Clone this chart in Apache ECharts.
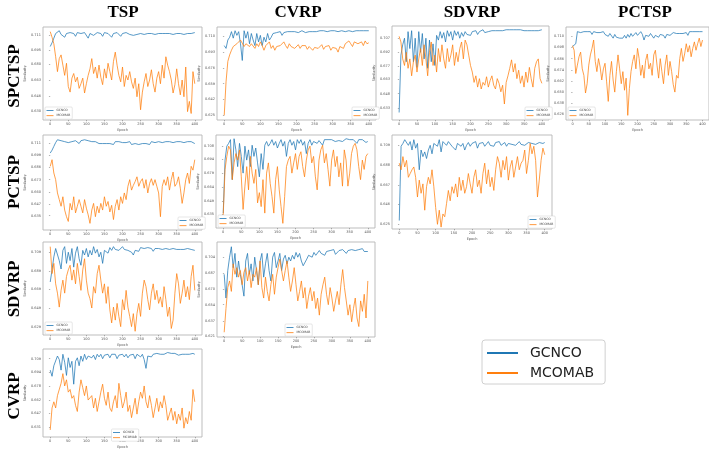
<!DOCTYPE html>
<html><head><meta charset="utf-8">
<script src="https://cdn.jsdelivr.net/npm/echarts@6/dist/echarts.min.js"></script>
<style>html,body{margin:0;padding:0;background:#fff}#c{width:709px;height:450px}</style>
</head><body><div id="c"></div>
<script>
const methods = ['GCNCO','MCOMAB'];
const colTitles = ['TSP','CVRP','SDVRP','PCTSP'];
const rowTitles = ['SPCTSP','PCTSP','SDVRP','CVRP'];
const xTickValues = [0,50,100,150,200,250,300,350,400];
const epochs = [0,5,10,15,20,25,30,35,40,45,50,55,60,65,70,75,80,85,90,95,100,105,110,115,120,125,130,135,140,145,150,155,160,165,170,175,180,185,190,195,200,205,210,215,220,225,230,235,240,245,250,255,260,265,270,275,280,285,290,295,300,305,310,315,320,325,330,335,340,345,350,355,360,365,370,375,380,385,390,395,400];

// row SPCTSP
const gcnco_SPCTSP_TSP = [0.699,0.703,0.708,0.713,0.715,0.716,0.712,0.714,0.709,0.713,0.711,0.714,0.712,0.713,0.710,0.714,0.712,0.713,0.711,0.714,0.712,0.708,0.713,0.714,0.711,0.713,0.714,0.712,0.713,0.710,0.714,0.712,0.713,0.714,0.709,0.713,0.711,0.714,0.712,0.710,0.713,0.711,0.714,0.713,0.712,0.714,0.711,0.713,0.712,0.714,0.713,0.714,0.712,0.714,0.713,0.714,0.713,0.714,0.712,0.714,0.713,0.714,0.713,0.715,0.713,0.714,0.713,0.714,0.712,0.714,0.713,0.714,0.713,0.714,0.712,0.714,0.713,0.714,0.713,0.714,0.714];
const mcomab_SPCTSP_TSP = [0.715,0.709,0.702,0.688,0.672,0.686,0.690,0.679,0.668,0.681,0.656,0.650,0.665,0.670,0.661,0.666,0.654,0.659,0.665,0.649,0.659,0.668,0.675,0.686,0.670,0.677,0.665,0.679,0.666,0.658,0.675,0.665,0.681,0.672,0.663,0.683,0.693,0.679,0.668,0.661,0.677,0.656,0.668,0.663,0.672,0.661,0.654,0.665,0.645,0.659,0.631,0.650,0.661,0.670,0.656,0.663,0.674,0.659,0.650,0.665,0.672,0.659,0.679,0.665,0.688,0.679,0.672,0.663,0.649,0.658,0.675,0.659,0.647,0.663,0.645,0.677,0.629,0.640,0.627,0.672,0.659];
const gcnco_SPCTSP_CVRP = [0.700,0.697,0.706,0.709,0.715,0.708,0.716,0.711,0.715,0.702,0.684,0.716,0.708,0.715,0.702,0.713,0.706,0.700,0.713,0.704,0.711,0.700,0.709,0.704,0.713,0.706,0.709,0.713,0.711,0.714,0.712,0.715,0.711,0.714,0.713,0.715,0.713,0.715,0.714,0.715,0.715,0.714,0.715,0.716,0.715,0.714,0.716,0.715,0.716,0.715,0.716,0.715,0.716,0.716,0.715,0.716,0.716,0.715,0.716,0.716,0.715,0.716,0.716,0.715,0.716,0.716,0.716,0.715,0.716,0.716,0.716,0.715,0.716,0.716,0.716,0.716,0.716,0.716,0.716,0.716,0.716];
const mcomab_SPCTSP_CVRP = [0.625,0.661,0.683,0.690,0.695,0.699,0.697,0.702,0.700,0.706,0.708,0.699,0.702,0.704,0.699,0.702,0.700,0.697,0.702,0.699,0.704,0.700,0.695,0.700,0.699,0.704,0.697,0.700,0.695,0.699,0.697,0.700,0.699,0.704,0.700,0.697,0.702,0.699,0.700,0.697,0.699,0.701,0.697,0.700,0.698,0.700,0.696,0.699,0.700,0.695,0.698,0.700,0.697,0.699,0.701,0.696,0.699,0.698,0.700,0.695,0.698,0.700,0.697,0.693,0.699,0.700,0.697,0.702,0.700,0.705,0.702,0.699,0.704,0.706,0.702,0.700,0.704,0.700,0.705,0.702,0.703];
const gcnco_SPCTSP_SDVRP = [0.628,0.689,0.700,0.707,0.682,0.714,0.696,0.715,0.682,0.707,0.676,0.714,0.692,0.712,0.685,0.707,0.675,0.705,0.682,0.701,0.678,0.710,0.705,0.714,0.707,0.713,0.703,0.715,0.709,0.714,0.705,0.715,0.710,0.714,0.707,0.713,0.709,0.714,0.711,0.709,0.710,0.714,0.712,0.715,0.711,0.714,0.712,0.716,0.713,0.715,0.714,0.716,0.715,0.716,0.715,0.717,0.715,0.716,0.715,0.717,0.716,0.717,0.716,0.717,0.716,0.717,0.716,0.717,0.716,0.716,0.715,0.717,0.715,0.716,0.715,0.716,0.715,0.716,0.715,0.716,0.716];
const mcomab_SPCTSP_SDVRP = [0.709,0.703,0.685,0.678,0.692,0.675,0.685,0.667,0.682,0.689,0.671,0.685,0.696,0.678,0.700,0.685,0.667,0.692,0.703,0.678,0.689,0.671,0.696,0.682,0.700,0.685,0.675,0.696,0.682,0.689,0.700,0.678,0.692,0.682,0.696,0.703,0.685,0.705,0.700,0.689,0.678,0.671,0.660,0.667,0.655,0.664,0.653,0.660,0.657,0.666,0.655,0.662,0.667,0.657,0.653,0.664,0.659,0.650,0.657,0.637,0.660,0.667,0.675,0.684,0.671,0.680,0.664,0.673,0.659,0.667,0.655,0.671,0.660,0.676,0.664,0.655,0.675,0.682,0.685,0.664,0.659];
const gcnco_SPCTSP_PCTSP = [0.699,0.700,0.702,0.715,0.716,0.714,0.715,0.715,0.713,0.715,0.714,0.715,0.712,0.715,0.713,0.714,0.712,0.714,0.713,0.715,0.712,0.713,0.710,0.713,0.711,0.708,0.712,0.709,0.711,0.708,0.710,0.708,0.711,0.708,0.712,0.709,0.713,0.710,0.712,0.714,0.711,0.713,0.715,0.712,0.706,0.711,0.713,0.710,0.713,0.711,0.708,0.711,0.713,0.709,0.712,0.713,0.711,0.708,0.712,0.713,0.711,0.713,0.714,0.712,0.713,0.715,0.713,0.714,0.713,0.715,0.714,0.711,0.715,0.713,0.715,0.714,0.715,0.716,0.715,0.714,0.715];
const mcomab_SPCTSP_PCTSP = [0.700,0.695,0.670,0.679,0.688,0.693,0.675,0.668,0.649,0.659,0.679,0.690,0.697,0.706,0.683,0.672,0.686,0.677,0.663,0.675,0.681,0.661,0.640,0.668,0.683,0.663,0.650,0.672,0.690,0.675,0.659,0.672,0.652,0.665,0.625,0.654,0.672,0.683,0.690,0.675,0.697,0.686,0.668,0.679,0.665,0.684,0.691,0.675,0.681,0.668,0.690,0.695,0.679,0.665,0.686,0.672,0.659,0.679,0.690,0.668,0.683,0.672,0.658,0.650,0.668,0.665,0.686,0.697,0.683,0.691,0.702,0.693,0.700,0.688,0.697,0.704,0.695,0.702,0.708,0.699,0.706];
// row PCTSP
const gcnco_PCTSP_TSP = [0.701,0.704,0.708,0.712,0.715,0.715,0.714,0.715,0.713,0.715,0.712,0.714,0.713,0.711,0.714,0.713,0.711,0.714,0.712,0.715,0.713,0.714,0.715,0.713,0.715,0.713,0.714,0.711,0.713,0.711,0.713,0.711,0.713,0.711,0.712,0.710,0.713,0.711,0.713,0.711,0.712,0.710,0.712,0.711,0.713,0.710,0.712,0.711,0.713,0.710,0.712,0.711,0.713,0.711,0.712,0.710,0.713,0.711,0.712,0.710,0.713,0.711,0.712,0.710,0.713,0.711,0.713,0.711,0.712,0.710,0.713,0.711,0.713,0.711,0.712,0.710,0.713,0.711,0.713,0.712,0.711];
const mcomab_PCTSP_TSP = [0.687,0.694,0.680,0.673,0.659,0.652,0.645,0.655,0.641,0.634,0.629,0.648,0.641,0.655,0.638,0.645,0.652,0.645,0.638,0.652,0.643,0.636,0.627,0.641,0.648,0.634,0.645,0.638,0.648,0.641,0.655,0.645,0.650,0.639,0.646,0.631,0.645,0.652,0.641,0.655,0.648,0.659,0.652,0.666,0.673,0.662,0.667,0.671,0.676,0.666,0.671,0.674,0.664,0.673,0.659,0.669,0.674,0.667,0.673,0.666,0.659,0.634,0.666,0.673,0.667,0.676,0.662,0.673,0.681,0.666,0.669,0.676,0.664,0.648,0.659,0.673,0.680,0.669,0.687,0.683,0.694];
const gcnco_PCTSP_CVRP = [0.636,0.693,0.708,0.711,0.715,0.672,0.716,0.704,0.686,0.711,0.697,0.679,0.708,0.693,0.704,0.686,0.709,0.697,0.706,0.690,0.675,0.700,0.683,0.709,0.713,0.708,0.711,0.715,0.709,0.713,0.706,0.711,0.715,0.708,0.713,0.697,0.711,0.715,0.709,0.713,0.704,0.715,0.711,0.715,0.709,0.713,0.700,0.711,0.715,0.709,0.713,0.715,0.711,0.714,0.715,0.709,0.715,0.713,0.715,0.714,0.715,0.716,0.713,0.715,0.714,0.715,0.713,0.715,0.716,0.714,0.715,0.713,0.715,0.715,0.711,0.715,0.713,0.715,0.714,0.712,0.713];
const mcomab_PCTSP_CVRP = [0.634,0.683,0.697,0.708,0.704,0.672,0.690,0.700,0.693,0.704,0.675,0.640,0.665,0.686,0.661,0.697,0.679,0.668,0.683,0.647,0.658,0.643,0.672,0.636,0.679,0.690,0.668,0.654,0.636,0.672,0.686,0.661,0.643,0.625,0.654,0.686,0.693,0.697,0.679,0.690,0.700,0.683,0.697,0.702,0.686,0.675,0.693,0.704,0.708,0.690,0.697,0.675,0.661,0.693,0.704,0.709,0.690,0.700,0.683,0.665,0.693,0.704,0.686,0.697,0.675,0.690,0.665,0.704,0.693,0.665,0.679,0.700,0.708,0.711,0.704,0.686,0.672,0.693,0.683,0.697,0.700];
const gcnco_PCTSP_SDVRP = [0.629,0.708,0.711,0.715,0.716,0.709,0.713,0.704,0.715,0.706,0.711,0.683,0.704,0.697,0.702,0.695,0.704,0.709,0.700,0.711,0.713,0.708,0.715,0.702,0.713,0.715,0.709,0.713,0.711,0.708,0.709,0.704,0.711,0.713,0.708,0.711,0.704,0.709,0.712,0.708,0.711,0.709,0.713,0.706,0.711,0.709,0.712,0.708,0.710,0.713,0.709,0.711,0.708,0.712,0.710,0.713,0.709,0.711,0.712,0.708,0.711,0.713,0.710,0.712,0.709,0.711,0.713,0.710,0.712,0.709,0.711,0.712,0.710,0.711,0.713,0.710,0.711,0.712,0.710,0.711,0.712];
const mcomab_PCTSP_SDVRP = [0.690,0.683,0.697,0.686,0.693,0.675,0.679,0.683,0.686,0.675,0.654,0.672,0.658,0.668,0.640,0.665,0.675,0.668,0.683,0.665,0.643,0.625,0.640,0.622,0.636,0.633,0.647,0.661,0.650,0.665,0.658,0.668,0.654,0.675,0.661,0.672,0.658,0.665,0.679,0.668,0.658,0.675,0.683,0.665,0.672,0.658,0.679,0.690,0.668,0.683,0.665,0.675,0.661,0.683,0.697,0.690,0.675,0.693,0.683,0.697,0.672,0.686,0.693,0.675,0.686,0.697,0.683,0.690,0.693,0.704,0.679,0.693,0.711,0.700,0.708,0.693,0.654,0.672,0.693,0.706,0.699];
// row SDVRP
const gcnco_SDVRP_TSP = [0.677,0.690,0.704,0.713,0.715,0.700,0.691,0.711,0.715,0.697,0.709,0.700,0.713,0.693,0.708,0.715,0.702,0.695,0.711,0.706,0.713,0.704,0.711,0.706,0.715,0.708,0.712,0.704,0.709,0.697,0.711,0.713,0.708,0.714,0.711,0.715,0.712,0.714,0.711,0.713,0.715,0.712,0.714,0.711,0.713,0.709,0.706,0.711,0.713,0.710,0.714,0.712,0.713,0.711,0.714,0.712,0.713,0.710,0.713,0.711,0.713,0.711,0.712,0.710,0.713,0.711,0.712,0.710,0.713,0.711,0.712,0.710,0.712,0.711,0.712,0.710,0.713,0.711,0.712,0.710,0.711];
const mcomab_SDVRP_TSP = [0.715,0.686,0.697,0.675,0.665,0.650,0.668,0.679,0.665,0.683,0.690,0.695,0.679,0.690,0.675,0.697,0.683,0.668,0.690,0.702,0.679,0.665,0.659,0.649,0.672,0.665,0.686,0.695,0.679,0.665,0.675,0.654,0.672,0.647,0.633,0.650,0.636,0.654,0.640,0.629,0.658,0.647,0.668,0.650,0.640,0.629,0.643,0.624,0.643,0.654,0.640,0.665,0.679,0.672,0.658,0.647,0.665,0.675,0.658,0.668,0.654,0.661,0.650,0.672,0.658,0.640,0.650,0.627,0.636,0.665,0.686,0.675,0.654,0.665,0.679,0.661,0.672,0.658,0.683,0.695,0.668];
const gcnco_SDVRP_CVRP = [0.686,0.661,0.690,0.704,0.715,0.693,0.708,0.683,0.700,0.686,0.675,0.663,0.700,0.708,0.686,0.697,0.679,0.704,0.690,0.675,0.700,0.708,0.683,0.697,0.708,0.690,0.679,0.704,0.709,0.693,0.700,0.708,0.690,0.702,0.706,0.697,0.704,0.700,0.706,0.702,0.709,0.704,0.708,0.700,0.695,0.693,0.702,0.706,0.708,0.704,0.709,0.706,0.708,0.711,0.708,0.709,0.706,0.710,0.708,0.711,0.709,0.712,0.707,0.709,0.711,0.709,0.712,0.710,0.708,0.711,0.710,0.712,0.710,0.711,0.709,0.712,0.711,0.713,0.710,0.711,0.710];
const mcomab_SDVRP_CVRP = [0.625,0.650,0.672,0.679,0.668,0.697,0.686,0.693,0.683,0.690,0.675,0.688,0.693,0.679,0.690,0.672,0.686,0.683,0.693,0.675,0.700,0.672,0.661,0.683,0.668,0.658,0.675,0.686,0.665,0.683,0.693,0.702,0.690,0.679,0.690,0.700,0.683,0.668,0.679,0.693,0.675,0.658,0.668,0.679,0.661,0.672,0.650,0.663,0.672,0.658,0.668,0.650,0.661,0.643,0.665,0.675,0.683,0.665,0.654,0.672,0.661,0.647,0.658,0.668,0.654,0.675,0.691,0.672,0.658,0.643,0.654,0.636,0.650,0.661,0.640,0.631,0.658,0.647,0.665,0.640,0.679];
// row CVRP
const gcnco_CVRP_TSP = [0.696,0.689,0.701,0.699,0.712,0.708,0.696,0.714,0.705,0.690,0.710,0.699,0.706,0.680,0.706,0.710,0.701,0.712,0.706,0.714,0.708,0.712,0.714,0.710,0.713,0.708,0.714,0.711,0.714,0.709,0.713,0.711,0.714,0.710,0.714,0.712,0.714,0.709,0.713,0.711,0.714,0.711,0.714,0.710,0.713,0.712,0.714,0.709,0.714,0.712,0.711,0.714,0.708,0.698,0.712,0.714,0.711,0.714,0.713,0.715,0.714,0.714,0.715,0.714,0.715,0.716,0.714,0.715,0.714,0.715,0.714,0.713,0.715,0.714,0.715,0.714,0.715,0.714,0.715,0.715,0.714];
const mcomab_CVRP_TSP = [0.628,0.653,0.660,0.653,0.667,0.665,0.681,0.692,0.678,0.685,0.671,0.674,0.664,0.667,0.656,0.649,0.671,0.685,0.676,0.667,0.678,0.662,0.660,0.667,0.653,0.664,0.649,0.660,0.671,0.680,0.664,0.656,0.671,0.653,0.649,0.660,0.667,0.653,0.681,0.667,0.653,0.660,0.671,0.649,0.656,0.642,0.653,0.664,0.646,0.660,0.671,0.664,0.678,0.660,0.653,0.667,0.656,0.642,0.653,0.664,0.649,0.660,0.653,0.667,0.656,0.639,0.646,0.653,0.639,0.649,0.635,0.646,0.639,0.653,0.630,0.642,0.635,0.649,0.639,0.674,0.660];

// y tick labels per panel
const yTicks_SPCTSP_TSP = [0.630,0.646,0.663,0.680,0.695,0.711];
const yTicks_SPCTSP_CVRP = [0.625,0.642,0.659,0.676,0.693,0.710];
const yTicks_SPCTSP_SDVRP = [0.633,0.648,0.663,0.677,0.692,0.707];
const yTicks_SPCTSP_PCTSP = [0.626,0.638,0.650,0.662,0.674,0.686,0.698,0.710];
const yTicks_PCTSP_TSP = [0.635,0.647,0.660,0.673,0.686,0.699,0.711];
const yTicks_PCTSP_CVRP = [0.635,0.649,0.664,0.679,0.694,0.708];
const yTicks_PCTSP_SDVRP = [0.625,0.646,0.667,0.688,0.709];
const yTicks_SDVRP_TSP = [0.629,0.649,0.669,0.689,0.709];
const yTicks_SDVRP_CVRP = [0.621,0.637,0.654,0.670,0.687,0.704];
const yTicks_CVRP_TSP = [0.631,0.647,0.662,0.678,0.694,0.709];

const BLUE = '#1f77b4', ORANGE = '#ff7f0e';

const panels = [
  {g:gcnco_SPCTSP_TSP, m:mcomab_SPCTSP_TSP, t:yTicks_SPCTSP_TSP, box:[43,27,159,93], leg:'left'},
  {g:gcnco_SPCTSP_CVRP, m:mcomab_SPCTSP_CVRP, t:yTicks_SPCTSP_CVRP, box:[217,27,159,93], leg:'right'},
  {g:gcnco_SPCTSP_SDVRP, m:mcomab_SPCTSP_SDVRP, t:yTicks_SPCTSP_SDVRP, box:[392,26,157,94], leg:'right'},
  {g:gcnco_SPCTSP_PCTSP, m:mcomab_SPCTSP_PCTSP, t:yTicks_SPCTSP_PCTSP, box:[566,27,148,93], leg:'left'},
  {g:gcnco_PCTSP_TSP, m:mcomab_PCTSP_TSP, t:yTicks_PCTSP_TSP, box:[43,135,159,95], leg:'right'},
  {g:gcnco_PCTSP_CVRP, m:mcomab_PCTSP_CVRP, t:yTicks_PCTSP_CVRP, box:[216,135,159,93], leg:'left'},
  {g:gcnco_PCTSP_SDVRP, m:mcomab_PCTSP_SDVRP, t:yTicks_PCTSP_SDVRP, box:[392,135,160,94], leg:'right'},
  {g:gcnco_SDVRP_TSP, m:mcomab_SDVRP_TSP, t:yTicks_SDVRP_TSP, box:[43,242,159,93], leg:'left'},
  {g:gcnco_SDVRP_CVRP, m:mcomab_SDVRP_CVRP, t:yTicks_SDVRP_CVRP, box:[217,242,158,95], leg:'center'},
  {g:gcnco_CVRP_TSP, m:mcomab_CVRP_TSP, t:yTicks_CVRP_TSP, box:[43,349,159,93], leg:'center'}
];

const grid=[], xAxis=[], yAxis=[], series=[], legend=[];
const tickColor = '#666', labColor = '#555';
panels.forEach((p,i)=>{
  const [l,t,w,h] = p.box;
  grid.push({left:l, top:t, width:w, height:h, show:true, borderColor:'#b5b5b5', borderWidth:0.9, backgroundColor:'#fff'});
  xAxis.push({type:'value', gridIndex:i, min:-20, max:420, name:'Epoch', nameLocation:'middle', nameGap:8,
    nameTextStyle:{fontSize:3.5, color:'#555', fontFamily:'DejaVu Sans'},
    axisLine:{show:false}, splitLine:{show:false},
    axisTick:{show:true, length:1.3, lineStyle:{color:tickColor, width:0.5}, customValues:xTickValues},
    axisLabel:{fontSize:3.5, color:labColor, margin:2, fontFamily:'DejaVu Sans', customValues:xTickValues}});
  yAxis.push({type:'value', gridIndex:i, min:0.62, max:0.72, name:'Similarity', nameLocation:'middle', nameGap:12,
    nameTextStyle:{fontSize:3.5, color:'#555', fontFamily:'DejaVu Sans'},
    axisLine:{show:false}, splitLine:{show:false},
    axisTick:{show:true, length:1.3, lineStyle:{color:tickColor, width:0.5}, customValues:p.t},
    axisLabel:{fontSize:3.5, color:labColor, margin:2, fontFamily:'DejaVu Sans', customValues:p.t, formatter:v=>v.toFixed(3)}});
  series.push({type:'line', name:methods[0], xAxisIndex:i, yAxisIndex:i, data:epochs.map((e,k)=>[e,p.g[k]]),
    showSymbol:false, symbol:'none', lineStyle:{width:0.75, color:BLUE}, itemStyle:{color:BLUE}, animation:false, silent:true});
  series.push({type:'line', name:methods[1], xAxisIndex:i, yAxisIndex:i, data:epochs.map((e,k)=>[e,p.m[k]]),
    showSymbol:false, symbol:'none', lineStyle:{width:0.75, color:ORANGE}, itemStyle:{color:ORANGE}, animation:false, silent:true});
  const lg = {data:methods, orient:'vertical', top:t+h-13, icon:'rect', itemWidth:7, itemHeight:0.8, itemGap:1.2,
    padding:[1.5,2,1.5,1.5], borderColor:'#ccc', borderWidth:0.5, borderRadius:1, backgroundColor:'#fff',
    textStyle:{fontSize:3, color:'#444', fontFamily:'DejaVu Sans', lineHeight:4, padding:[0,0,0,-2]}, selectedMode:false};
  if (p.leg==='left') lg.left = l+2;
  else if (p.leg==='right') lg.left = l+w-24;
  else lg.left = l+w/2-11;
  legend.push(lg);
});

legend.push({data:methods, orient:'vertical', left:482, top:340, icon:'rect', itemWidth:31, itemHeight:2, itemGap:6,
  padding:[6,11,4,5], borderColor:'#d0d0d0', borderWidth:1, borderRadius:3, backgroundColor:'#fff', selectedMode:false,
  textStyle:{fontSize:14, color:'#222', fontFamily:'DejaVu Sans', lineHeight:14, padding:[0,0,0,7]}});

const colX = [123,298,472,645];
const rowY = [76,182,289,396];
const graphic = [];
colTitles.forEach((s,i)=>graphic.push({type:'text', x:colX[i], y:13, style:{text:s, fontSize:17, fontWeight:'bold',
  fontFamily:'Liberation Serif', fill:'#000', align:'center', verticalAlign:'middle'}}));
rowTitles.forEach((s,i)=>graphic.push({type:'text', x:15, y:rowY[i], rotation:Math.PI/2, style:{text:s, fontSize:17, fontWeight:'bold',
  fontFamily:'Liberation Serif', fill:'#000', align:'center', verticalAlign:'middle'}}));

const chart = echarts.init(document.getElementById('c'), null, {renderer:'canvas'});
chart.setOption({animation:false, backgroundColor:'#fff', grid, xAxis, yAxis, series, legend, graphic});
</script></body></html>
